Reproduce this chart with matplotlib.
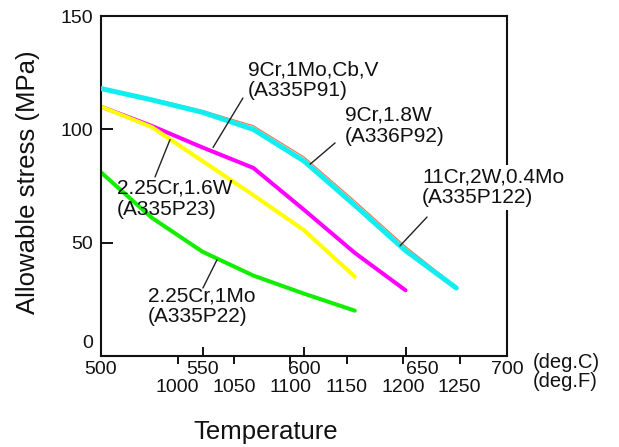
import matplotlib
matplotlib.use("Agg")
import matplotlib.pyplot as plt

plt.rcParams["font.family"] = ["Liberation Sans", "DejaVu Sans"]

# allowable stress (MPa) vs temperature (deg.C)
temp_p22 = [500, 525, 550, 575, 600, 625]
stress_p22 = [81, 61, 46, 35.5, 27.5, 20]

temp_p23 = [500, 525, 550, 575, 600, 625]
stress_p23 = [110, 101, 86, 71, 55.5, 35]

temp_p91 = [500, 525, 550, 575, 600, 625, 650]
stress_p91 = [110, 101.5, 92, 83, 64.5, 45.5, 29]

temp_p92 = [500, 525, 550, 575, 600, 625, 650, 675]
stress_p92 = [118, 113, 107.5, 100, 86, 66.5, 46.5, 30]

temp_p122 = [500, 525, 550, 575, 600, 625, 650, 675]
stress_p122 = [118.6, 113.6, 108.3, 101.6, 87.8, 68.4, 48.3, 30.6]

c_ticks = [500, 550, 600, 650, 700]
c_labels = ["500", "550", "600", "", "700"]
f_ticks = [1000, 1050, 1100, 1150, 1200, 1250]
y_ticks = [0, 50, 100, 150]
y_labels = ["", "50", "100", "150"]


def c2f(c):
    return c * 9.0 / 5.0 + 32.0


def f2c(f):
    return (f - 32.0) * 5.0 / 9.0


fig = plt.figure(figsize=(6.19, 4.47), dpi=100)
ax = fig.add_axes([0.1632, 0.2036, 0.6559, 0.7606])

lw = 2.9
kw = dict(solid_capstyle="round", solid_joinstyle="round")
ax.plot(temp_p122, stress_p122, color="#f07a5a", lw=0.9, zorder=2, **kw)
ax.plot(temp_p92, stress_p92, color="#10eef0", lw=3.6, zorder=3, **kw)
ax.plot(temp_p91, stress_p91, color="#ff00ff", lw=lw, zorder=2, **kw)
ax.plot(temp_p23, stress_p23, color="#ffff00", lw=lw, zorder=2.5, **kw)
ax.plot(temp_p22, stress_p22, color="#11ee00", lw=lw, zorder=2, **kw)

ax.set_xlim(500, 700)
ax.set_ylim(0, 150)

ink = "#111111"
for s in ax.spines.values():
    s.set_linewidth(1.5)
    s.set_color(ink)

ax.set_xticks(c_ticks)
ax.set_xticklabels(c_labels)
ax.set_yticks(y_ticks)
ax.set_yticklabels(y_labels)
ax.tick_params(axis="x", direction="in", length=6.5, width=1.4, pad=3.5,
               labelsize=14, colors=ink)
ax.tick_params(axis="y", direction="in", length=8.5, width=1.4, pad=5.5,
               labelsize=14, colors=ink)

ax.annotate("0", xy=(500, 0), xycoords="data", xytext=(-8, 12),
            textcoords="offset pixels", ha="right", va="center",
            fontsize=14, color=ink)
ax.annotate("650", xy=(650, 0), xycoords="data", xytext=(0, -14),
            textcoords="offset pixels", ha="left", va="center",
            fontsize=14, color=ink)

sec = ax.secondary_xaxis("bottom", functions=(c2f, f2c))
sec.set_xticks(f_ticks)
sec.spines["bottom"].set_visible(False)
sec.tick_params(direction="out", length=5.8, width=1.4, pad=11,
                labelsize=14, colors=ink)

ax.annotate("(deg.C)", xy=(700, 0), xycoords="data", xytext=(26, -7),
            textcoords="offset pixels", ha="left", va="center",
            fontsize=14.5, color=ink)
ax.annotate("(deg.F)", xy=(700, 0), xycoords="data", xytext=(26, -26),
            textcoords="offset pixels", ha="left", va="center",
            fontsize=14.5, color=ink)

ax.set_xlabel("Temperature", fontsize=18.5, va="center", color=ink)
ax.xaxis.set_label_coords(0.406, -0.2235)
ax.set_ylabel("Allowable stress (MPa)", fontsize=18.5, va="center", color=ink)
ax.yaxis.set_label_coords(-0.18, 0.512)

# labels and leader lines
labels = [
    ("9Cr,1Mo,Cb,V\n(A335P91)", (572.4, 130.5), (569.9, 113.8), (555.2, 92.0), False),
    ("9Cr,1.8W\n(A336P92)", (620.2, 110.6), (615.3, 94.0), (603.0, 84.6), False),
    ("11Cr,2W,0.4Mo\n(A335P122)", (658.1, 83.3), (660.6, 61.3), (647.3, 48.6), True),
    ("2.25Cr,1.6W\n(A335P23)", (507.9, 78.4), (526.6, 79.0), (534.0, 95.5), False),
    ("2.25Cr,1Mo\n(A335P22)", (523.2, 30.8), (550.2, 30.0), (557.1, 42.4), False),
]
for text, pos, start, end, boxed in labels:
    t = ax.text(pos[0], pos[1], text, ha="left", va="top", fontsize=15,
                color=ink, linespacing=1.15, zorder=5, clip_on=False)
    if boxed:
        t.set_bbox(dict(facecolor="white", edgecolor="none", pad=1.5))
    ax.annotate("", xy=end, xytext=start, xycoords="data",
                arrowprops=dict(arrowstyle="-", color="#222222", lw=1.0,
                                shrinkA=0, shrinkB=0), zorder=6)

fig.savefig("out.png", dpi=100)
